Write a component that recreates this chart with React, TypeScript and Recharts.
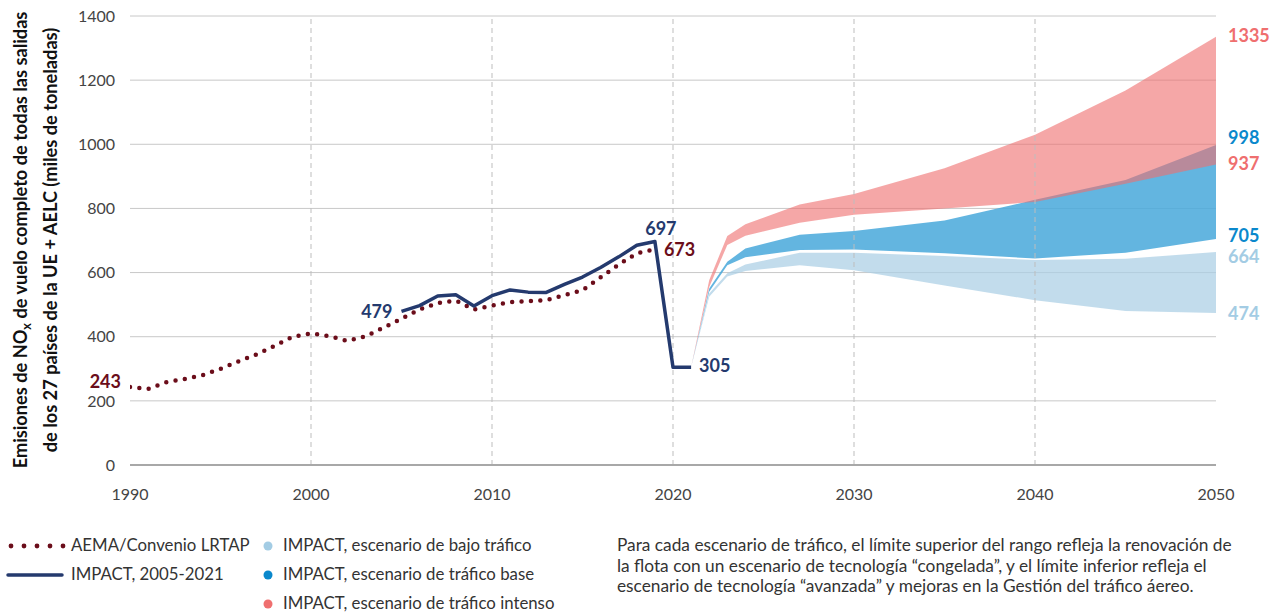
import React from 'react';
import {
  ComposedChart,
  Line,
  Area,
  XAxis,
  YAxis,
  CartesianGrid,
  ReferenceLine,
  ReferenceDot,
} from 'recharts';

// ---- Data ----
const aemaYears = [1990, 1991, 1992, 1993, 1994, 1995, 1996, 1997, 1998, 1999, 2000, 2001, 2002, 2003, 2004, 2005, 2006, 2007, 2008, 2009, 2010, 2011, 2012, 2013, 2014, 2015, 2016, 2017, 2018, 2019];
const aemaValues = [243, 237, 258, 268, 280, 300, 323, 345, 372, 400, 410, 402, 387, 401, 428, 456, 485, 505, 513, 485, 497, 508, 511, 514, 530, 545, 585, 625, 660, 673];

const impactYears = [2005, 2006, 2007, 2008, 2009, 2010, 2011, 2012, 2013, 2014, 2015, 2016, 2017, 2018, 2019, 2020, 2021];
const impactValues = [479, 497, 527, 531, 496, 528, 546, 539, 538, 563, 586, 616, 649, 685, 697, 305, 305];

const projYears = [2021, 2022, 2023, 2024, 2027, 2030, 2035, 2040, 2045, 2050];
const intenseHigh = [305, 576, 714, 751, 812, 845, 925, 1030, 1168, 1335];
const intenseLow = [305, 555, 686, 715, 755, 780, 800, 820, 877, 937];
const baseHigh = [305, 550, 634, 675, 718, 730, 762, 827, 889, 998];
const baseLow = [305, 540, 623, 648, 670, 672, 660, 644, 662, 705];
const lowHigh = [305, 535, 598, 625, 662, 662, 652, 639, 643, 664];
const lowLow = [305, 525, 588, 605, 623, 607, 560, 514, 480, 474];

const xTicks = [1990, 2000, 2010, 2020, 2030, 2040, 2050];
const yTicks = [0, 200, 400, 600, 800, 1000, 1200, 1400];
const dashedYears = [2000, 2010, 2020, 2030, 2040];

const legendLeft = ['AEMA/Convenio LRTAP', 'IMPACT, 2005-2021'];
const legendRight = [
  'IMPACT, escenario de bajo tráfico',
  'IMPACT, escenario de tráfico base',
  'IMPACT, escenario de tráfico intenso',
];
const noteLines = [
  'Para cada escenario de tráfico, el límite superior del rango refleja la renovación de',
  'la flota con un escenario de tecnología “congelada”, y el límite inferior refleja el',
  'escenario de tecnología “avanzada” y mejoras en la Gestión del tráfico áereo.',
];

// ---- Build table ----
const rowMap = new Map<number, any>();
const put = (year: number, key: string, val: any) => {
  if (!rowMap.has(year)) rowMap.set(year, { year });
  rowMap.get(year)[key] = val;
};
aemaYears.forEach((y, i) => put(y, 'aema', aemaValues[i]));
impactYears.forEach((y, i) => put(y, 'impact', impactValues[i]));
projYears.forEach((y, i) => {
  put(y, 'low', [lowLow[i], lowHigh[i]]);
  put(y, 'base', [baseLow[i], baseHigh[i]]);
  put(y, 'intense', [intenseLow[i], intenseHigh[i]]);
});
const data = Array.from(rowMap.values()).sort((a, b) => a.year - b.year);

const FONT = 'Lato, "Noto Sans", sans-serif';
const NAVY = '#243a6e';
const MAROON = '#6b0d1a';
const RED = '#ef6f6f';
const BLUE = '#0a88cc';
const LIGHT = '#a3cce4';
const last = (a: number[]) => a[a.length - 1];

const mkLabel = (
  text: string,
  color: string,
  dx: number,
  dy: number,
  anchor: 'start' | 'middle' | 'end',
  size = 18
) => (props: any) => {
  const vb = props.viewBox || {};
  const x = (vb.x ?? 0) + (vb.width ?? 0) / 2;
  const y = (vb.y ?? 0) + (vb.height ?? 0) / 2;
  return (
    <text
      x={x + dx}
      y={y + dy}
      fill={color}
      fontSize={size}
      fontWeight={700}
      fontFamily={FONT}
      textAnchor={anchor}
      dominantBaseline="central"
    >
      {text}
    </text>
  );
};

const labels: { x: number; y: number; text: string; color: string; dx: number; dy: number; anchor: 'start' | 'middle' | 'end' }[] = [
  { x: aemaYears[0], y: aemaValues[0], text: String(aemaValues[0]), color: MAROON, dx: -9, dy: -6, anchor: 'end' },
  { x: impactYears[0], y: impactValues[0], text: String(impactValues[0]), color: NAVY, dx: -9, dy: 0, anchor: 'end' },
  { x: 2019, y: 697, text: String(impactValues[impactYears.indexOf(2019)]), color: NAVY, dx: 6, dy: -13, anchor: 'middle' },
  { x: last(aemaYears), y: last(aemaValues), text: String(last(aemaValues)), color: MAROON, dx: 9, dy: 0, anchor: 'start' },
  { x: last(impactYears), y: last(impactValues), text: String(last(impactValues)), color: NAVY, dx: 8, dy: -2, anchor: 'start' },
  { x: 2050, y: last(intenseHigh), text: String(last(intenseHigh)), color: RED, dx: 12, dy: -2, anchor: 'start' },
  { x: 2050, y: last(baseHigh), text: String(last(baseHigh)), color: BLUE, dx: 12, dy: -8, anchor: 'start' },
  { x: 2050, y: last(intenseLow), text: String(last(intenseLow)), color: RED, dx: 12, dy: -1, anchor: 'start' },
  { x: 2050, y: last(baseLow), text: String(last(baseLow)), color: BLUE, dx: 12, dy: -4, anchor: 'start' },
  { x: 2050, y: last(lowHigh), text: String(last(lowHigh)), color: LIGHT, dx: 12, dy: 4, anchor: 'start' },
  { x: 2050, y: last(lowLow), text: String(last(lowLow)), color: LIGHT, dx: 12, dy: 0, anchor: 'start' },
];

const textStyle: React.CSSProperties = {
  position: 'absolute',
  fontFamily: FONT,
  fontSize: 16.8,
  color: '#333',
  whiteSpace: 'nowrap',
  lineHeight: '20px',
};

export default function App() {
  return (
    <div
      style={{
        position: 'absolute',
        left: 0,
        top: 0,
        width: 1272,
        height: 613,
        background: '#fff',
        overflow: 'hidden',
      }}
    >
      <ComposedChart
        width={1272}
        height={613}
        data={data}
        margin={{ top: 16, right: 56, bottom: 118, left: 0 }}
      >
        <CartesianGrid vertical={false} stroke="#c8c8c8" strokeWidth={1} />
        <XAxis
          type="number"
          dataKey="year"
          domain={[1990, 2050]}
          ticks={xTicks}
          height={30}
          tickLine={false}
          tickSize={0}
          tickMargin={24}
          axisLine={{ stroke: '#a8a8a8', strokeWidth: 2 }}
          tick={{ fill: '#444', fontSize: 16, fontFamily: FONT }}
          allowDataOverflow
        />
        <YAxis
          type="number"
          domain={[0, 1400]}
          ticks={yTicks}
          width={130}
          tickLine={false}
          tickSize={0}
          tickMargin={15}
          axisLine={false}
          tick={{ fill: '#444', fontSize: 16, fontFamily: FONT }}
        />
        {dashedYears.map((y) => (
          <ReferenceLine key={y} x={y} stroke="#bdbdbd" strokeDasharray="5 4" strokeWidth={1} />
        ))}
        <Area
          dataKey="low"
          type="linear"
          stroke="none"
          fill="#abcee5"
          fillOpacity={0.72}
          isAnimationActive={false}
          dot={false}
          activeDot={false}
        />
        <Area
          dataKey="base"
          type="linear"
          stroke="none"
          fill="#48a8db"
          fillOpacity={0.85}
          isAnimationActive={false}
          dot={false}
          activeDot={false}
        />
        <Area
          dataKey="intense"
          type="linear"
          stroke="none"
          fill={RED}
          fillOpacity={0.61}
          isAnimationActive={false}
          dot={false}
          activeDot={false}
        />
        <Line
          dataKey="aema"
          type="linear"
          stroke={MAROON}
          strokeWidth={4.5}
          strokeDasharray="0 9.4"
          strokeLinecap="round"
          dot={false}
          activeDot={false}
          isAnimationActive={false}
        />
        <Line
          dataKey="impact"
          type="linear"
          stroke={NAVY}
          strokeWidth={3.5}
          strokeLinejoin="round"
          dot={false}
          activeDot={false}
          isAnimationActive={false}
        />
        {labels.map((l, i) => (
          <ReferenceDot
            key={i}
            x={l.x}
            y={l.y}
            r={0}
            fill="none"
            stroke="none"
            label={mkLabel(l.text, l.color, l.dx, l.dy, l.anchor)}
          />
        ))}
      </ComposedChart>

      {/* Y axis title */}
      <div
        style={{
          position: 'absolute',
          left: 34 - 240,
          top: 240 - 28,
          width: 480,
          height: 56,
          transform: 'rotate(-90deg)',
          transformOrigin: 'center center',
          textAlign: 'center',
          fontFamily: FONT,
          fontWeight: 700,
          fontSize: 18.2,
          lineHeight: '28px',
          color: '#111',
          whiteSpace: 'nowrap',
        }}
      >
        <div>
          Emisiones de NO
          <span style={{ fontSize: '0.7em', position: 'relative', top: '0.3em' }}>x</span> de vuelo
          completo de todas las salidas
        </div>
        <div>de los 27 países de la UE + AELC (miles de toneladas)</div>
      </div>

      {/* Legend */}
      <svg style={{ position: 'absolute', left: 0, top: 530 }} width={70} height={60}>
        {[0, 1, 2, 3, 4].map((i) => (
          <circle key={i} cx={11 + i * 13} cy={16} r={2.4} fill={MAROON} />
        ))}
        <line x1={8} y1={45} x2={62} y2={45} stroke={NAVY} strokeWidth={3.5} strokeLinecap="round" />
      </svg>
      {legendLeft.map((t, i) => (
        <div key={t} style={{ ...textStyle, left: 71, top: 535 + i * 29 }}>
          {t}
        </div>
      ))}
      <svg style={{ position: 'absolute', left: 258, top: 530 }} width={20} height={84}>
        {[LIGHT, BLUE, RED].map((c, i) => (
          <circle key={i} cx={10} cy={16 + i * 29} r={4.5} fill={c} />
        ))}
      </svg>
      {legendRight.map((t, i) => (
        <div key={t} style={{ ...textStyle, left: 283, top: 535 + i * 29 }}>
          {t}
        </div>
      ))}

      {/* Note */}
      <div style={{ ...textStyle, fontSize: 17.3, left: 617, top: 535, lineHeight: '20.5px' }}>
        {noteLines.map((l) => (
          <div key={l}>{l}</div>
        ))}
      </div>
    </div>
  );
}
